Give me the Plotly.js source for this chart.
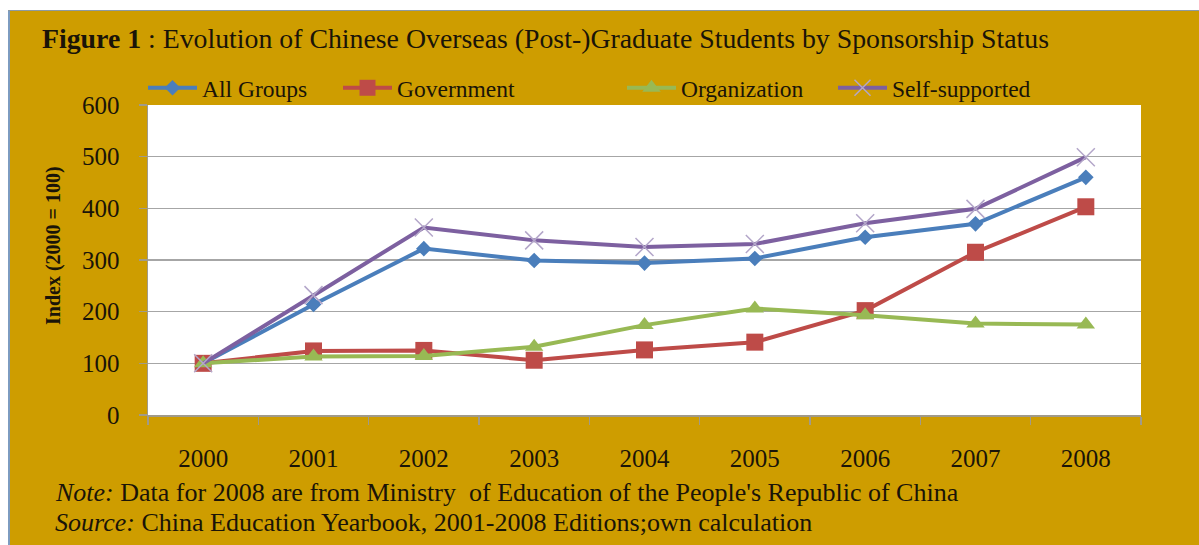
<!DOCTYPE html>
<html>
<head>
<meta charset="utf-8">
<script src="https://cdn.plot.ly/plotly-3.0.1.min.js"></script>
<style>
  html, body { margin: 0; padding: 0; background: #ffffff; width: 1199px; height: 545px; overflow: hidden; }
  #chart { position: absolute; left: 10px; top: 11px; width: 1189px; height: 534px; }
  #bl { position: absolute; left: 8px; top: 10px; width: 2px; height: 535px; background: #7D9CC0; }
  #bt { position: absolute; left: 8px; top: 10px; width: 1191px; height: 1px; background: #8C9AA3; }
</style>
</head>
<body>
<div id="bl"></div>
<div id="bt"></div>
<div id="chart"></div>
<script>
const years = ['2000', '2001', '2002', '2003', '2004', '2005', '2006', '2007', '2008'];
const allGroups     = [100, 214, 322, 299, 294, 303, 344, 370, 460];
const government    = [100, 124, 125, 106, 126, 141, 202, 315, 403];
const organization  = [100, 113, 114, 132, 174, 206, 193, 177, 175];
const selfSupported = [100, 232, 363, 338, 325, 331, 371, 399, 499];
const seriesNames = ['All Groups', 'Government', 'Organization', 'Self-supported'];
const yTicks = [0, 100, 200, 300, 400, 500, 600];

const SERIF = 'Liberation Serif, Times New Roman, serif';
const GOLD = '#CE9D00';
const INK = '#1a1408';

// page-pixel -> paper helpers (plot area: x 148..1141, y 105..415 on the page)
const px = x => (x - 148) / 993;
const py = y => (415 - y) / 310;

const traces = [
  { x: years, y: allGroups, name: seriesNames[0], legend: 'legend',
    mode: 'lines+markers', line: { color: '#4A7EBB', width: 4 },
    marker: { symbol: 'diamond', size: 12, color: '#4A7EBB' } },
  { x: years, y: government, name: seriesNames[1], legend: 'legend2',
    mode: 'lines+markers', line: { color: '#BE4B48', width: 4 },
    marker: { symbol: 'square', size: 17, color: '#BE4B48' } },
  { x: years, y: organization, name: seriesNames[2], legend: 'legend3',
    mode: 'lines+markers', line: { color: '#98B954', width: 4 },
    marker: { symbol: 'triangle-up', size: 16, color: '#98B954' } },
  { x: years, y: selfSupported, name: seriesNames[3], legend: 'legend4',
    mode: 'lines+markers', line: { color: '#7D60A0', width: 4 },
    marker: { symbol: 'x-thin-open', size: 18, color: '#B3A6C9', line: { color: '#B3A6C9', width: 1.5 } } }
];

const legendBase = {
  orientation: 'h', yanchor: 'middle', xanchor: 'left', y: py(88),
  bgcolor: 'rgba(0,0,0,0)', borderwidth: 0, itemwidth: 49,
  font: { family: SERIF, size: 23.5, color: INK }
};

const layout = {
  width: 1189, height: 534,
  margin: { l: 138, r: 58, t: 94, b: 130, pad: 0 },
  paper_bgcolor: GOLD, plot_bgcolor: '#ffffff',
  showlegend: true,
  legend:  Object.assign({}, legendBase, { x: px(143) }),
  legend2: Object.assign({}, legendBase, { x: px(338) }),
  legend3: Object.assign({}, legendBase, { x: px(622) }),
  legend4: Object.assign({}, legendBase, { x: px(833) }),
  xaxis: {
    type: 'category', range: [-0.5, 8.5], tickson: 'boundaries',
    ticks: 'outside', ticklen: 8, tickwidth: 1.2, tickcolor: '#A09A8A',
    showline: true, linecolor: '#A09A8A', linewidth: 1.5,
    showgrid: false, zeroline: false, ticklabelstandoff: 20,
    tickfont: { family: SERIF, size: 25, color: INK }
  },
  yaxis: {
    range: [0, 600], tickvals: yTicks, ticktext: yTicks.map(String),
    ticks: 'outside', ticklen: 8, tickwidth: 1.2, tickcolor: '#A09A8A',
    showline: true, linecolor: '#A09A8A', linewidth: 1.5,
    showgrid: true, gridcolor: '#A6A6A6', gridwidth: 1.5, zeroline: false,
    ticklabelstandoff: 14,
    tickfont: { family: SERIF, size: 25, color: INK }
  },
  annotations: [
    { xref: 'paper', yref: 'paper', x: px(40), y: py(38), xanchor: 'left', yanchor: 'middle',
      showarrow: false, text: '<b>Figure 1</b> : Evolution of Chinese Overseas (Post-)Graduate Students by Sponsorship Status',
      font: { family: SERIF, size: 27.8, color: INK } },
    { xref: 'paper', yref: 'paper', x: px(53), y: py(246), xanchor: 'center', yanchor: 'middle',
      showarrow: false, textangle: -90, text: '<b>Index (2000 = 100)</b>',
      font: { family: SERIF, size: 20, color: INK } },
    { xref: 'paper', yref: 'paper', x: px(53), y: py(493), xanchor: 'left', yanchor: 'middle',
      showarrow: false, text: '<i>Note:</i> Data for 2008 are from Ministry  of Education of the People\'s Republic of China',
      font: { family: SERIF, size: 26, color: INK } },
    { xref: 'paper', yref: 'paper', x: px(53), y: py(522), xanchor: 'left', yanchor: 'middle',
      showarrow: false, text: '<i>Source:</i> China Education Yearbook, 2001-2008 Editions;own calculation',
      font: { family: SERIF, size: 26, color: INK } }
  ]
};

Plotly.newPlot('chart', traces, layout, { displayModeBar: false, staticPlot: true });
</script>
</body>
</html>
